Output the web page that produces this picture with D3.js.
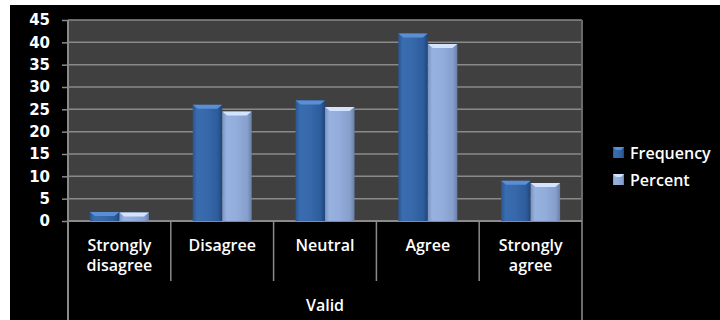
<!DOCTYPE html>
<html>
<head>
<meta charset="utf-8">
<script src="https://cdn.jsdelivr.net/npm/d3@7"></script>
<style>
body{margin:0;background:#fff;}
text{font-family:"Open Sans","DejaVu Sans",sans-serif;font-weight:600;fill:#fff;}
</style>
</head>
<body>
<div id="chart"></div>
<script>
// data
var categories = ["Strongly disagree","Disagree","Neutral","Agree","Strongly agree"];
var catLines = [["Strongly","disagree"],["Disagree"],["Neutral"],["Agree"],["Strongly","agree"]];
var frequency = [2, 26, 27, 42, 9];
var percent = [1.9, 24.5, 25.5, 39.6, 8.5];
var seriesNames = ["Frequency","Percent"];
var yTicks = [0,5,10,15,20,25,30,35,40,45];
var groupLabel = "Valid";

var W = 720, H = 320;
var margin = {top:20, left:68, right:138, bottom:99};
var width = W - margin.left - margin.right,
    height = H - margin.top - margin.bottom;

var svg = d3.select("#chart").append("svg")
    .attr("width", W).attr("height", H);

var defs = svg.append("defs");
function grad(id, stops){
  var g = defs.append("linearGradient").attr("id", id)
    .attr("x1","0").attr("x2","1").attr("y1","0").attr("y2","0");
  stops.forEach(function(s){ g.append("stop").attr("offset", s[0]).attr("stop-color", s[1]); });
}
grad("gFreq", [[0,"#2a5590"],[0.15,"#3a6db0"],[0.5,"#3668aa"],[0.85,"#2d5c9c"],[1,"#1f4578"]]);
grad("gPct", [[0,"#7a93c0"],[0.15,"#98b2e0"],[0.5,"#92acdb"],[0.85,"#869fcc"],[1,"#6a80a8"]]);

// black panel
svg.append("rect").attr("x",10).attr("y",5).attr("width",710).attr("height",315).attr("fill","#000");

var g = svg.append("g").attr("transform","translate("+margin.left+","+margin.top+")");

var y = d3.scaleLinear().domain([0,45]).range([height,0]);
var x0 = d3.scaleBand().domain(categories).range([0,width]);
var x1 = d3.scaleBand().domain(seriesNames).range([0, 59]);

// plot area
g.append("rect").attr("width",width).attr("height",height).attr("fill","#404040");

// gridlines
g.selectAll(".grid").data(yTicks.slice(1)).enter().append("line")
  .attr("x1",0).attr("x2",width)
  .attr("y1",function(d){return y(d);}).attr("y2",function(d){return y(d);})
  .attr("stroke","#8a8a8a").attr("stroke-width",1.5);

// y axis
var yAxis = g.append("g").call(d3.axisLeft(y).tickValues(yTicks).tickSize(6).tickPadding(12));
yAxis.select(".domain").remove();
yAxis.selectAll(".tick line").attr("stroke","#8a8a8a").attr("stroke-width",1.5);
yAxis.selectAll(".tick text").attr("fill","#fff").style("font-size","15px")
  .style("font-family","Verdana,'DejaVu Sans',sans-serif").style("font-weight","bold");

g.append("line").attr("x1",0).attr("x2",0).attr("y1",0).attr("y2",H-margin.top)
  .attr("stroke","#8a8a8a").attr("stroke-width",2);
g.append("line").attr("x1",width).attr("x2",width).attr("y1",0).attr("y2",H-margin.top)
  .attr("stroke","#6a6a6a").attr("stroke-width",2);
g.append("line").attr("x1",0).attr("x2",width).attr("y1",height).attr("y2",height)
  .attr("stroke","#8a8a8a").attr("stroke-width",2);

// category separators
g.selectAll(".sep").data(categories.slice(1)).enter().append("line")
  .attr("x1",function(d){return x0(d);}).attr("x2",function(d){return x0(d);})
  .attr("y1",height).attr("y2",height+60)
  .attr("stroke","#8a8a8a").attr("stroke-width",1.5);

// bars
var rows = categories.map(function(c,i){ return {cat:c, vals:[frequency[i], percent[i]]}; });
var groups = g.selectAll(".grp").data(rows).enter().append("g")
  .attr("transform",function(d){ return "translate("+(x0(d.cat)+x0.bandwidth()/2-29.5)+",0)"; });

groups.each(function(d){
  var sel = d3.select(this);
  d.vals.forEach(function(v,j){
    var bx = x1(seriesNames[j]), bw = x1.bandwidth(), by = y(v), bh = height - y(v);
    var fill = j===0 ? "url(#gFreq)" : "url(#gPct)";
    sel.append("rect").attr("x",bx).attr("y",by).attr("width",bw).attr("height",bh).attr("fill",fill);
    var bev = Math.min(4, bh);
    sel.append("path")
      .attr("d","M"+bx+","+by+"L"+(bx+bw)+","+by+"L"+(bx+bw-5)+","+(by+bev)+"L"+(bx+5)+","+(by+bev)+"Z")
      .attr("fill", j===0 ? "#5a8fd6" : "#d4e4ff");
  });
});

// category labels
var labs = g.selectAll(".cl").data(catLines).enter().append("text")
  .attr("text-anchor","middle").style("font-size","16px")
  .attr("transform",function(d,i){ return "translate("+(x0(categories[i])+x0.bandwidth()/2)+","+(height+30)+")"; });
labs.selectAll("tspan").data(function(d){return d;}).enter().append("tspan")
  .attr("x",0).attr("dy",function(d,i){return i===0?0:20;}).text(function(d){return d;});

g.append("text").attr("x",width/2).attr("y",height+90).attr("text-anchor","middle")
  .style("font-size","16px").text(groupLabel);

// legend
var lg = svg.append("g").attr("transform","translate(613,147)");
seriesNames.forEach(function(s,i){
  var r = lg.append("g").attr("transform","translate(0,"+(i*27)+")");
  r.append("rect").attr("width",11).attr("height",11).attr("fill", i===0 ? "url(#gFreq)" : "url(#gPct)");
  r.append("path").attr("d","M0,0L11,0L8,3L3,3Z").attr("fill", i===0 ? "#5a8fd6" : "#d4e4ff");
  r.append("text").attr("x",17).attr("y",12).style("font-size","16px").text(s);
});
</script>
</body>
</html>
